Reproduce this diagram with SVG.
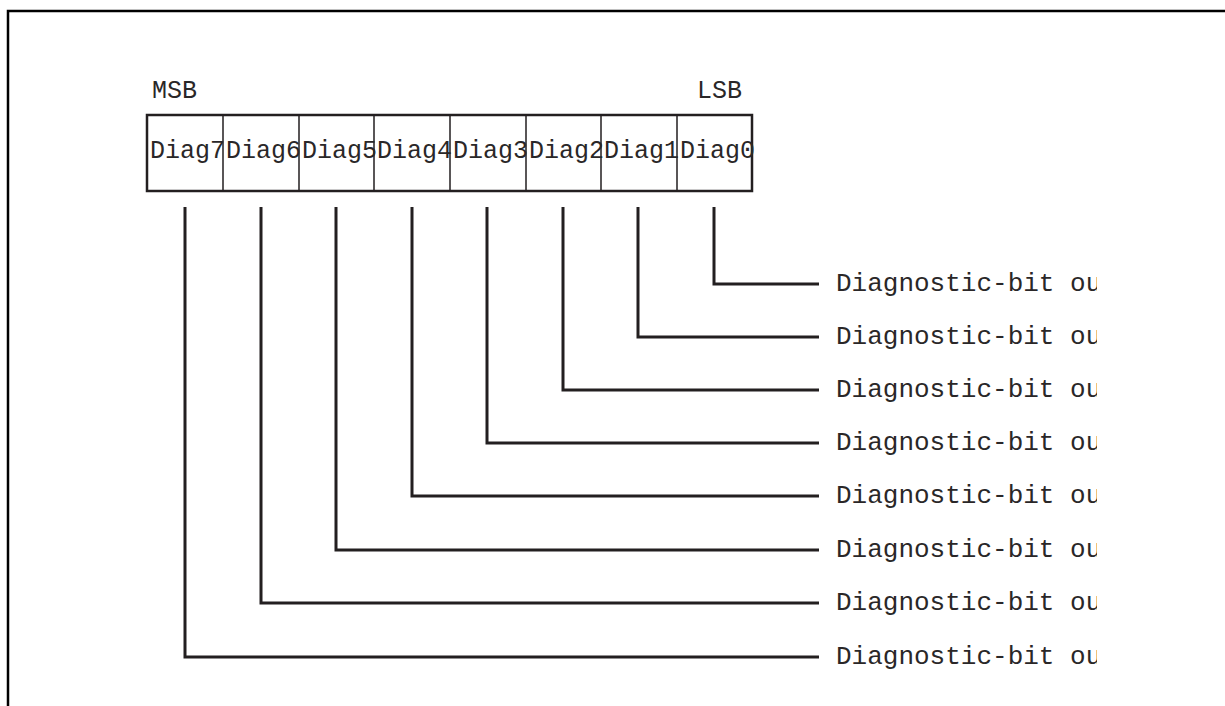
<svg xmlns="http://www.w3.org/2000/svg" width="1225" height="706" viewBox="0 0 1225 706">
  <defs>
    <style>
      .t { font-family: "Liberation Mono", "Courier New", monospace; fill: #2a2728; }
      .lbl { font-size: 25px; }
      .out { font-size: 26px; }
      .cell { fill: none; stroke: #231f20; stroke-width: 1.5; }
      .wire { fill: none; stroke: #231f20; stroke-width: 3; }
      .frame { fill: none; stroke: #000; stroke-width: 2.5; }
    </style>
    <clipPath id="clipR"><rect x="0" y="0" width="1097" height="706"/></clipPath>
  </defs>
  <rect width="1225" height="706" fill="#fff"/>
  <path class="frame" d="M8,706 V11 H1225"/>

  <text class="t lbl" x="152" y="98">MSB</text>
  <text class="t lbl" x="697" y="98">LSB</text>

  <g id="register">
    <rect x="147" y="115" width="605" height="76" fill="none" stroke="#231f20" stroke-width="2.5"/>
    <path class="cell" d="M223,115V191 M299,115V191 M374,115V191 M450,115V191 M526,115V191 M601,115V191 M677,115V191"/>
  </g>
  <g id="bit7"><text class="t lbl" x="150" y="158">Diag7</text></g>
  <g id="bit6"><text class="t lbl" x="226" y="158">Diag6</text></g>
  <g id="bit5"><text class="t lbl" x="302" y="158">Diag5</text></g>
  <g id="bit4"><text class="t lbl" x="377" y="158">Diag4</text></g>
  <g id="bit3"><text class="t lbl" x="453" y="158">Diag3</text></g>
  <g id="bit2"><text class="t lbl" x="529" y="158">Diag2</text></g>
  <g id="bit1"><text class="t lbl" x="604" y="158">Diag1</text></g>
  <g id="bit0"><text class="t lbl" x="680" y="158">Diag0</text></g>

  <g id="connectors">
    <path class="wire" d="M714,207V284H819"/>
    <path class="wire" d="M638,207V337H819"/>
    <path class="wire" d="M563,207V390H819"/>
    <path class="wire" d="M487,207V443H819"/>
    <path class="wire" d="M412,207V496H819"/>
    <path class="wire" d="M336,207V550H819"/>
    <path class="wire" d="M261,207V603H819"/>
    <path class="wire" d="M185,207V657H819"/>
  </g>

  <g id="outputs" clip-path="url(#clipR)">
    <g id="out0"><text class="t out" x="836" y="291">Diagnostic-bit ou</text></g>
    <g id="out1"><text class="t out" x="836" y="344">Diagnostic-bit ou</text></g>
    <g id="out2"><text class="t out" x="836" y="397">Diagnostic-bit ou</text></g>
    <g id="out3"><text class="t out" x="836" y="450">Diagnostic-bit ou</text></g>
    <g id="out4"><text class="t out" x="836" y="503">Diagnostic-bit ou</text></g>
    <g id="out5"><text class="t out" x="836" y="557">Diagnostic-bit ou</text></g>
    <g id="out6"><text class="t out" x="836" y="610">Diagnostic-bit ou</text></g>
    <g id="out7"><text class="t out" x="836" y="664">Diagnostic-bit ou</text></g>
  </g>
</svg>
